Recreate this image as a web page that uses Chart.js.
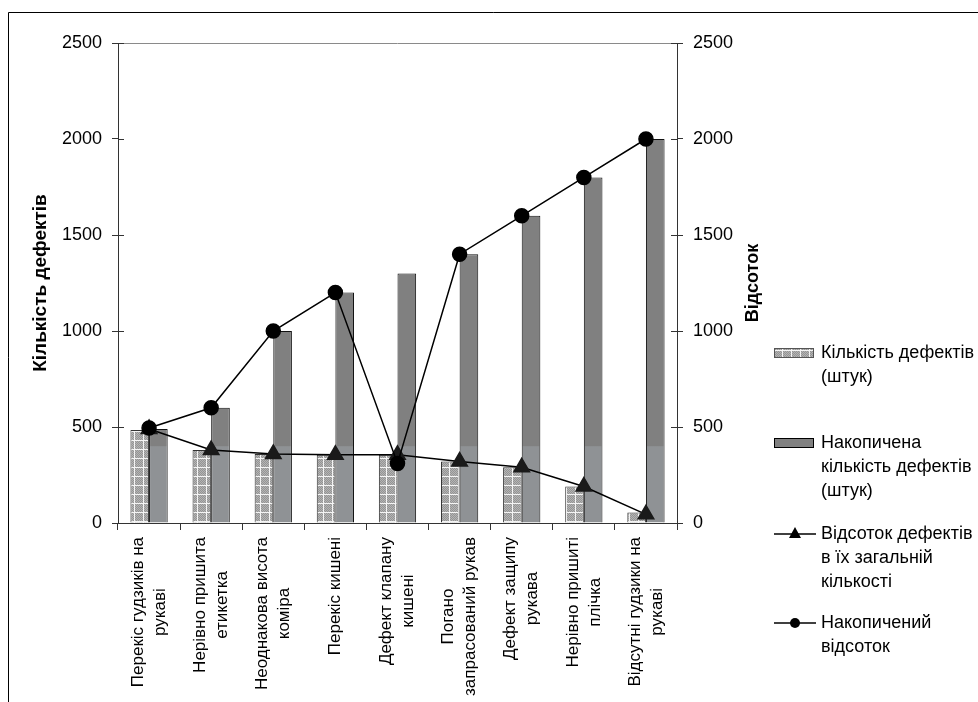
<!DOCTYPE html>
<html>
<head>
<meta charset="utf-8">
<script src="https://cdn.jsdelivr.net/npm/chart.js@4.4.1/dist/chart.umd.min.js"></script>
<style>
  html, body { margin: 0; padding: 0; background: #fff; }
  #wrap { width: 978px; height: 702px; position: relative; }
</style>
</head>
<body>
<div id="wrap"><canvas id="c" width="978" height="702"></canvas></div>
<script>
// Категорії дефектів (підписи осі X, по рядках)
const categories = [
  ['Перекіс гудзиків на', 'рукаві'],
  ['Нерівно пришита', 'етикетка'],
  ['Неоднакова висота', 'коміра'],
  ['Перекіс кишені'],
  ['Дефект клапану', 'кишені'],
  ['Погано', 'запрасований рукав'],
  ['Дефект защипу', 'рукава'],
  ['Нерівно пришиті', 'плічка'],
  ['Відсутні гудзики на', 'рукаві']
];
// Кількість дефектів (штук)
const defectCounts = [485, 380, 360, 355, 355, 320, 290, 190, 55];
// Накопичена кількість дефектів (штук)
const cumulativeCounts = [490, 600, 1000, 1200, 1300, 1400, 1600, 1800, 2000];
// Відсоток дефектів в їх загальній кількості
const defectShare = [490, 380, 360, 355, 355, 320, 290, 190, 45];
// Накопичений відсоток
const cumulativeShare = [495, 600, 1000, 1200, 310, 1400, 1600, 1800, 2000];
// Поділки обох вертикальних осей
const axisTicks = [0, 500, 1000, 1500, 2000, 2500];
// Назви рядів для легенди
const seriesNames = [
  ['Кількість дефектів', '(штук)'],
  ['Накопичена', 'кількість дефектів', '(штук)'],
  ['Відсоток дефектів', 'в їх загальній', 'кількості'],
  ['Накопичений', 'відсоток']
];
const leftTitle = 'Кількість дефектів';
const rightTitle = 'Відсоток';

const FONT = "'Liberation Sans', Arial, sans-serif";
const canvas = document.getElementById('c');
const ctx2d = canvas.getContext('2d');

// Сіра "сітчаста" заливка для стовпців кількості дефектів
function meshPattern() {
  const p = document.createElement('canvas');
  p.width = 9; p.height = 9;
  const g = p.getContext('2d');
  for (let y = 0; y < p.height; y++) {
    for (let x = 0; x < p.width; x++) {
      g.fillStyle = ((x + y) % 2) ? '#b4b4b4' : '#949494';
      g.fillRect(x, y, 1, 1);
    }
  }
  g.fillStyle = '#f4f4f4';
  g.fillRect(8, 0, 1, p.height);
  g.fillRect(0, 8, p.width, 1);
  return ctx2d.createPattern(p, 'repeat');
}
const mesh = meshPattern();

// Темні стовпці: нижня частина трохи світліша
function darkFill(context) {
  const chart = context.chart;
  const y = chart.scales && chart.scales.y;
  if (!chart.chartArea || !y) return '#808080';
  const yb = y.getPixelForValue(400);
  const g = chart.ctx.createLinearGradient(0, yb - 0.5, 0, yb + 0.5);
  g.addColorStop(0, '#808080');
  g.addColorStop(1, '#8f9295');
  return g;
}

const decor = {
  id: 'decor',
  beforeDraw(chart) {
    const c = chart.ctx;
    c.save();
    c.fillStyle = '#ffffff';
    c.fillRect(0, 0, chart.width, chart.height);
    c.restore();
  },
  afterDraw(chart) {
    const c = chart.ctx;
    const a = chart.chartArea;
    const ys = chart.scales.y;
    const xs = chart.scales.x;
    c.save();

    // рамка
    c.strokeStyle = '#000';
    c.lineWidth = 1;
    c.beginPath();
    c.moveTo(8.5, chart.height);
    c.lineTo(8.5, 12.5);
    c.lineTo(chart.width, 12.5);
    c.stroke();

    // верхня межа області побудови
    c.strokeStyle = '#8a8a8a';
    c.beginPath();
    c.moveTo(a.left, a.top + 0.5);
    c.lineTo(a.right, a.top + 0.5);
    c.stroke();

    // внутрішні частини поділок осей
    c.strokeStyle = '#333';
    axisTicks.forEach(v => {
      const py = Math.round(ys.getPixelForValue(v)) + 0.5;
      c.beginPath();
      c.moveTo(a.left, py); c.lineTo(a.left + 6, py);
      c.moveTo(a.right - 6, py); c.lineTo(a.right, py);
      c.stroke();
    });

    // підписи категорій (повернуті, рядки по центру)
    c.fillStyle = '#000';
    c.font = '17px ' + FONT;
    c.textAlign = 'center';
    c.textBaseline = 'middle';
    const lh = 22;
    const top = a.bottom + 14;
    categories.forEach((lines, i) => {
      const px = xs.getPixelForValue(i);
      const w = Math.max(...lines.map(t => c.measureText(t).width));
      c.save();
      c.translate(px, top);
      c.rotate(-Math.PI / 2);
      lines.forEach((t, j) => {
        c.fillText(t, -w / 2, (j - (lines.length - 1) / 2) * lh);
      });
      c.restore();
    });

    // назва правої осі
    c.save();
    c.font = 'bold 18px ' + FONT;
    c.translate(753, (a.top + a.bottom) / 2);
    c.rotate(-Math.PI / 2);
    c.fillText(rightTitle, 0, 0);
    c.restore();

    // легенда
    const lx = a.right + 97;
    const tx = lx + 47;
    const rows = [353, 443, 534, 623];
    const llh = 24;
    c.font = '18px ' + FONT;
    c.textAlign = 'left';
    rows.forEach((ry, k) => {
      if (k === 0) {
        c.fillStyle = mesh;
        c.fillRect(lx, ry - 5, 40, 10);
        c.strokeStyle = '#555';
        c.strokeRect(lx + 0.5, ry - 4.5, 39, 9);
      } else if (k === 1) {
        c.fillStyle = '#808080';
        c.fillRect(lx, ry - 5, 40, 10);
        c.strokeStyle = '#000';
        c.strokeRect(lx + 0.5, ry - 4.5, 39, 9);
      } else {
        c.strokeStyle = '#000';
        c.lineWidth = 1.5;
        c.beginPath();
        c.moveTo(lx, ry); c.lineTo(lx + 42, ry);
        c.stroke();
        c.fillStyle = '#000';
        c.beginPath();
        if (k === 2) {
          c.moveTo(lx + 21, ry - 7);
          c.lineTo(lx + 27, ry + 4);
          c.lineTo(lx + 15, ry + 4);
          c.closePath();
        } else {
          c.arc(lx + 21, ry, 5, 0, Math.PI * 2);
        }
        c.fill();
        c.lineWidth = 1;
      }
      c.fillStyle = '#000';
      seriesNames[k].forEach((t, j) => c.fillText(t, tx, ry + j * llh));
    });

    c.restore();
  }
};

const tickFormat = v => String(v);

new Chart(canvas, {
  data: {
    labels: categories,
    datasets: [
      {
        type: 'line',
        label: seriesNames[3].join(' '),
        data: cumulativeShare,
        yAxisID: 'y1',
        borderColor: '#000',
        borderWidth: 1.5,
        pointStyle: 'circle',
        pointRadius: 7,
        pointBackgroundColor: '#000',
        pointBorderColor: '#000',
        order: 0
      },
      {
        type: 'line',
        label: seriesNames[2].join(' '),
        data: defectShare,
        yAxisID: 'y1',
        borderColor: '#000',
        borderWidth: 1.5,
        pointStyle: 'triangle',
        pointRadius: 9,
        pointBackgroundColor: '#1a1a1a',
        pointBorderColor: '#1a1a1a',
        order: 1
      },
      {
        type: 'bar',
        label: seriesNames[0].join(' '),
        data: defectCounts,
        yAxisID: 'y',
        backgroundColor: mesh,
        borderColor: '#333',
        borderWidth: 1,
        categoryPercentage: 0.6,
        barPercentage: 1.0,
        order: 2
      },
      {
        type: 'bar',
        label: seriesNames[1].join(' '),
        data: cumulativeCounts,
        yAxisID: 'y',
        backgroundColor: darkFill,
        borderColor: '#111',
        borderWidth: 1,
        categoryPercentage: 0.6,
        barPercentage: 1.0,
        order: 3
      }
    ]
  },
  options: {
    responsive: false,
    animation: false,
    events: [],
    layout: { padding: { left: 0, right: 221, top: 43, bottom: 0 } },
    plugins: { legend: { display: false }, tooltip: { enabled: false } },
    scales: {
      x: {
        type: 'category',
        grid: { display: true, drawOnChartArea: false, offset: true, tickLength: 7, color: '#333' },
        border: { color: '#333', width: 1 },
        ticks: { display: false },
        afterFit(s) { s.height = 179; }
      },
      y: {
        position: 'left',
        min: 0, max: 2500,
        afterBuildTicks(s) { s.ticks = axisTicks.map(v => ({ value: v })); },
        grid: { display: true, drawOnChartArea: false, tickLength: 6, color: '#333' },
        border: { color: '#333', width: 1 },
        ticks: { color: '#000', padding: 10, font: { size: 18, family: FONT }, callback: tickFormat },
        title: {
          display: true, text: leftTitle, color: '#000',
          font: { size: 19, weight: 'bold', family: FONT },
          padding: { top: 29, bottom: 0 }
        },
        afterFit(s) { s.width = 118; }
      },
      y1: {
        position: 'right',
        min: 0, max: 2500,
        afterBuildTicks(s) { s.ticks = axisTicks.map(v => ({ value: v })); },
        grid: { display: true, drawOnChartArea: false, tickLength: 6, color: '#333' },
        border: { color: '#333', width: 1 },
        ticks: { color: '#000', padding: 10, font: { size: 18, family: FONT }, callback: tickFormat },
        afterFit(s) { s.width = 80; }
      }
    }
  },
  plugins: [decor]
});
</script>
</body>
</html>
